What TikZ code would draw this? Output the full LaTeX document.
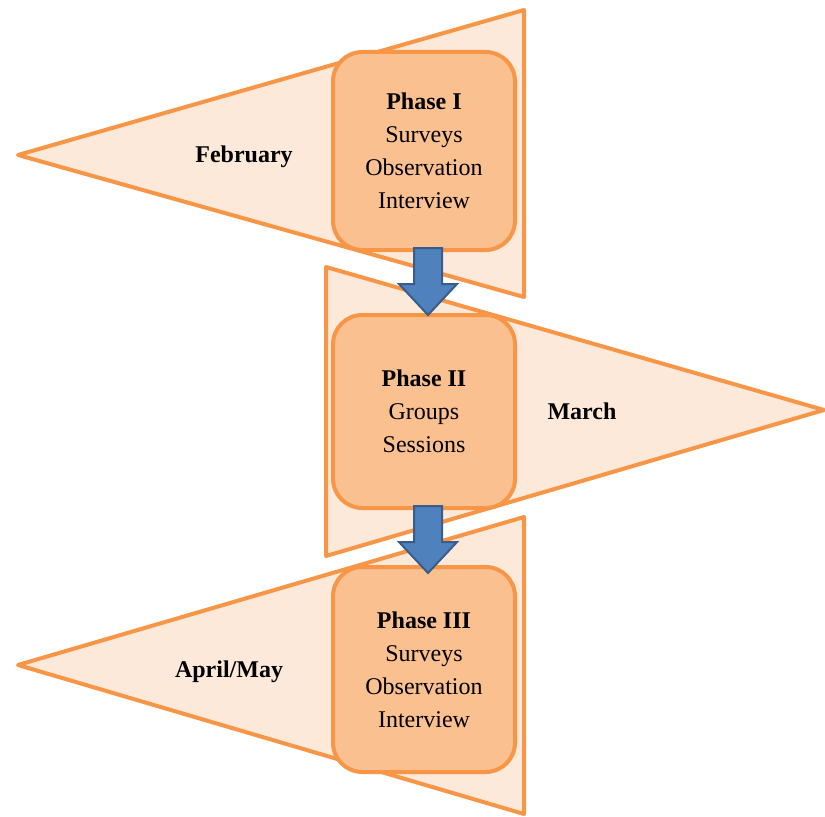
\documentclass[tikz,border=0pt]{standalone}
\usepackage{fontspec}
\setmainfont{Liberation Serif}
\usetikzlibrary{calc}
\definecolor{triFill}{HTML}{FDE9D9}
\definecolor{orangeLine}{HTML}{F79646}
\definecolor{boxFill}{HTML}{FAC090}
\definecolor{arrFill}{HTML}{4F81BD}
\definecolor{arrLine}{HTML}{385D8A}
\begin{document}
\begin{tikzpicture}[x=0.75pt,y=-0.75pt,
  tri/.style={fill=triFill,draw=orangeLine,line width=3pt,line join=round},
  phasebox/.style={fill=boxFill,draw=orangeLine,line width=3pt,rounded corners=22pt,
    minimum width=136.5pt,align=center,inner sep=0pt,
    font=\fontsize{18}{24.75}\selectfont},
  month/.style={font=\fontsize{18}{22}\selectfont\bfseries},
  blockarrow/.style={fill=arrFill,draw=arrLine,line width=1.5pt,line join=miter}]
\useasboundingbox (0,0) rectangle (825,817);
% triangles
\draw[tri] (18,155) -- (524,10) -- (524,297) -- cycle;
\draw[tri] (326,267) -- (824,410) -- (326,556) -- cycle;
\draw[tri] (18,665) -- (524,517) -- (524,814) -- cycle;
% month labels
\node[month] (m1) at (244,157) {February};
\node[month] (m2) at (582,411) {March};
\node[month] (m3) at (229,672) {April/May};
% phase boxes
\node[phasebox,minimum height=148.5pt] (b1) at (424,151)
  {\textbf{Phase I}\\Surveys\\Observation\\Interview};
\node[phasebox,minimum height=144.75pt] (b2) at (424,411.5)
  {\textbf{Phase II}\\Groups\\Sessions};
\node[phasebox,minimum height=153.75pt] (b3) at (424,669.5)
  {\textbf{Phase III}\\Surveys\\Observation\\Interview};
% block arrows
\draw[blockarrow] ($(b1.south)+(-10,-4)$) -- ($(b1.south)+(18,-4)$) -- ($(b1.south)+(18,32)$)
  -- ($(b1.south)+(33,32)$) -- ($(b2.north)+(4,2)$) -- ($(b1.south)+(-25,32)$)
  -- ($(b1.south)+(-10,32)$) -- cycle;
\draw[blockarrow] ($(b2.south)+(-10,-4)$) -- ($(b2.south)+(18,-4)$) -- ($(b2.south)+(18,32)$)
  -- ($(b2.south)+(33,32)$) -- ($(b3.north)+(4,8)$) -- ($(b2.south)+(-25,32)$)
  -- ($(b2.south)+(-10,32)$) -- cycle;
\end{tikzpicture}
\end{document}
